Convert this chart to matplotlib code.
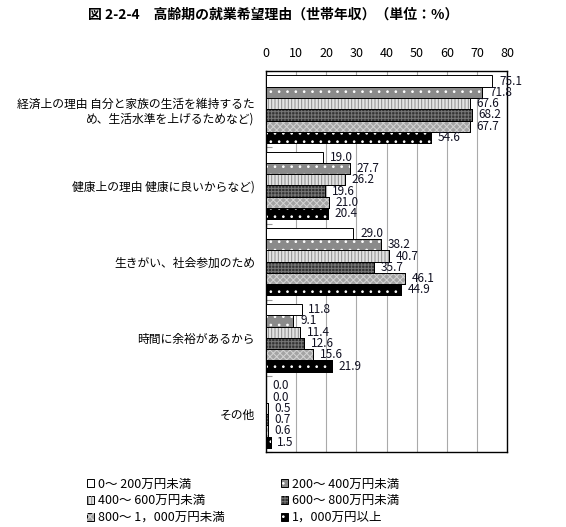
import numpy as np
import matplotlib
matplotlib.use("Agg")
import matplotlib.pyplot as plt
import matplotlib.patches as mpatches

plt.rcParams['font.family'] = ['Noto Sans CJK JP', 'DejaVu Sans']
plt.rcParams['hatch.linewidth'] = 0.7

categories = [
    "経済上の理由 自分と家族の生活を維持するた\nめ、生活水準を上げるためなど)",
    "健康上の理由 健康に良いからなど)",
    "生きがい、社会参加のため",
    "時間に余裕があるから",
    "その他",
]
series_names = [
    "0～ 200万円未満",
    "200～ 400万円未満",
    "400～ 600万円未満",
    "600～ 800万円未満",
    "800～ 1，000万円未満",
    "1，000万円以上",
]
values = [
    [75.1, 19.0, 29.0, 11.8, 0.0],
    [71.8, 27.7, 38.2, 9.1, 0.0],
    [67.6, 26.2, 40.7, 11.4, 0.5],
    [68.2, 19.6, 35.7, 12.6, 0.7],
    [67.7, 21.0, 46.1, 15.6, 0.6],
    [54.6, 20.4, 44.9, 21.9, 1.5],
]
ticks = [0, 10, 20, 30, 40, 50, 60, 70, 80]

# face colour, hatch, hatch colour per series
styles = [
    ("white", None, None),
    ("#8a8a8a", "..", "white"),
    ("#e2e2e2", "|||||", "#8c8c8c"),
    ("#333333", "+++++", "#777777"),
    ("#a4a4a4", "xxxxx", "#d4d4d4"),
    ("black", "..", "white"),
]

fig = plt.figure(figsize=(5.66, 5.27), dpi=100)
ax = fig.add_axes([0.470, 0.142, 0.426, 0.723])

n = len(series_names)
h = 0.148
y = np.arange(len(categories))
handles = []
for i in range(n):
    face, hatch, hcol = styles[i]
    pos = y - h * (n - 1) / 2 + i * h
    ax.barh(pos, values[i], height=h, color=face, edgecolor="black",
            linewidth=0.7, zorder=3)
    if hatch:
        ax.barh(pos, values[i], height=h, fill=False, hatch=hatch,
                edgecolor=hcol, linewidth=0, zorder=4)
        ax.barh(pos, values[i], height=h, fill=False, edgecolor="black",
                linewidth=0.7, zorder=5)
    for p, v in zip(pos, values[i]):
        ax.text(v + 2.2, p, f"{v:.1f}", va="center", ha="left",
                fontsize=8.5, color="#111122", zorder=6)
    base = mpatches.Patch(facecolor=face, edgecolor="black", linewidth=0.7)
    if hatch:
        top = mpatches.Patch(fill=False, hatch=hatch, edgecolor=hcol, linewidth=0)
        handles.append((base, top))
    else:
        handles.append(base)

ax.set_xlim(0, 80)
ax.set_ylim(len(categories) - 0.5, -0.5)
ax.set_xticks(ticks)
ax.xaxis.tick_top()
ax.tick_params(axis="x", length=0, labelsize=9, pad=8)
ax.set_yticks(y)
ax.set_yticklabels(categories, fontsize=8.5)
ax.tick_params(axis="y", length=0, pad=8)
ax.set_yticks(np.arange(len(categories) + 1) - 0.5, minor=True)
ax.tick_params(axis="y", which="minor", direction="in", length=4,
               color="#999999", width=0.8)
ax.grid(axis="x", color="#aaaaaa", linewidth=0.8, zorder=0)
for s in ax.spines.values():
    s.set_color("black")
    s.set_linewidth(1.0)

fig.text(0.483, 0.972, "図 2-2-4　高齢期の就業希望理由（世帯年収）（単位：%）",
         ha="center", va="center", fontsize=10, fontweight="bold")

order = [0, 2, 4, 1, 3, 5]
fig.legend([handles[k] for k in order], [series_names[k] for k in order],
           ncol=2, loc="upper left", bbox_to_anchor=(0.153, 0.094),
           frameon=False, fontsize=9, handlelength=0.6, handleheight=0.6,
           handletextpad=0.3, columnspacing=4.5, labelspacing=0.3,
           borderaxespad=0, borderpad=0)

fig.savefig("out.png", dpi=100)
